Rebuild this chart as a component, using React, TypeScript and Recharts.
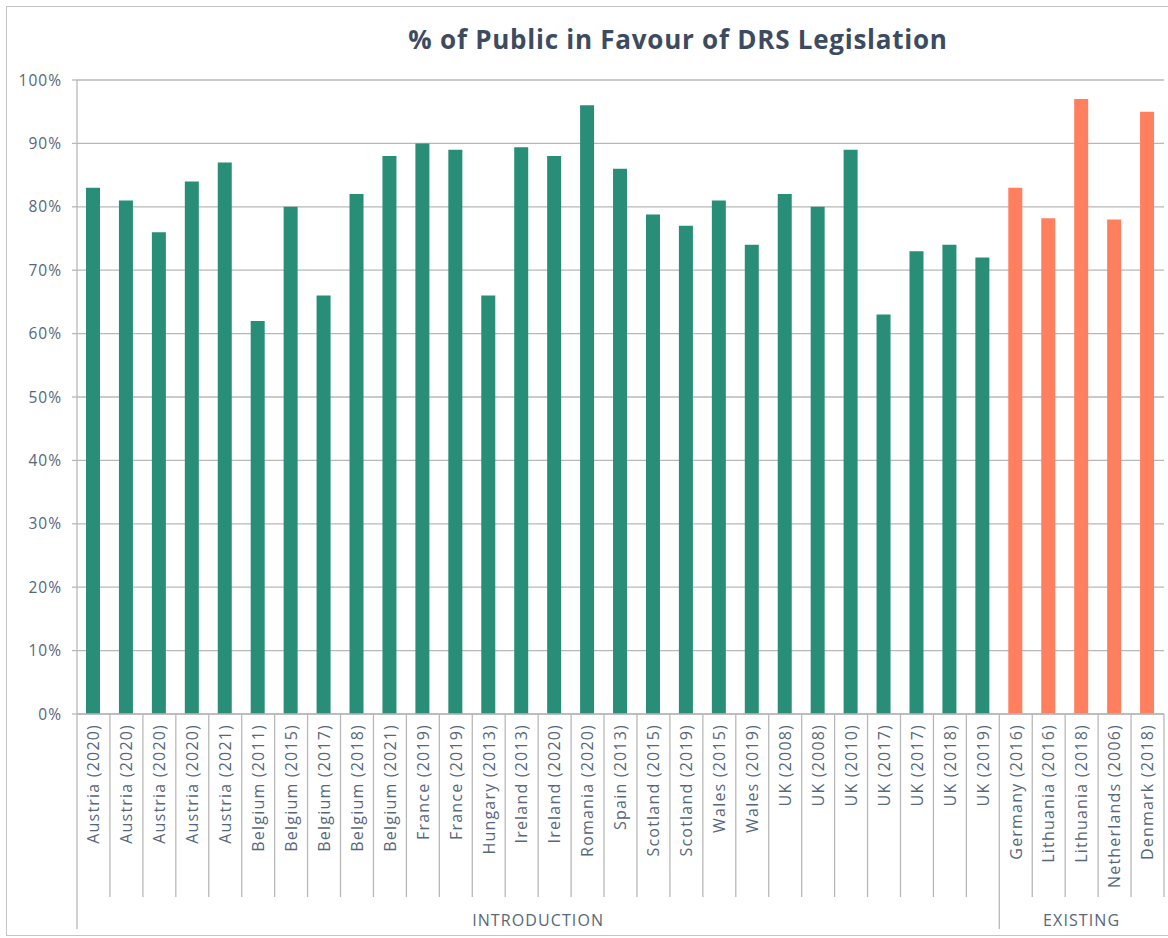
import React from "react";
import { BarChart, Bar, XAxis, YAxis, CartesianGrid, Cell } from "recharts";

const categories = [
  "Austria (2020)", "Austria (2020)", "Austria (2020)", "Austria (2020)", "Austria (2021)",
  "Belgium (2011)", "Belgium (2015)", "Belgium (2017)", "Belgium (2018)", "Belgium (2021)",
  "France (2019)", "France (2019)", "Hungary (2013)", "Ireland (2013)", "Ireland (2020)",
  "Romania (2020)", "Spain (2013)", "Scotland (2015)", "Scotland (2019)", "Wales (2015)",
  "Wales (2019)", "UK (2008)", "UK (2008)", "UK (2010)", "UK (2017)", "UK (2017)",
  "UK (2018)", "UK (2019)",
  "Germany (2016)", "Lithuania (2016)", "Lithuania (2018)", "Netherlands (2006)", "Denmark (2018)",
];

const values = [
  83, 81, 76, 84, 87,
  62, 80, 66, 82, 88,
  90, 89, 66, 89.4, 88,
  96, 86, 78.8, 77, 81,
  74, 82, 80, 89, 63, 73,
  74, 72,
  83, 78.2, 97, 78, 95,
];

const groupNames = ["INTRODUCTION", "EXISTING"];
const groupCounts = [28, 5];
const groupColors = ["#288E78", "#FF7F5F"];

const yTicks = [0, 10, 20, 30, 40, 50, 60, 70, 80, 90, 100];

const title = "% of Public in Favour of DRS Legislation";

// layout
const W = 1168;
const H = 938;
const PLOT_LEFT = 77;
const PLOT_RIGHT_MARGIN = 4;
const PLOT_TOP = 80;
const PLOT_BOTTOM = 714;
const BAND = (W - PLOT_LEFT - PLOT_RIGHT_MARGIN) / categories.length;
const TEXT = "#56677B";
const GRID = "#B8B8B8";
const FONT = "'Open Sans', sans-serif";

const groupOf: number[] = [];
const groupStart: number[] = [];
{
  let k = 0;
  groupCounts.forEach((c, g) => {
    groupStart.push(k);
    for (let j = 0; j < c; j++) groupOf.push(g);
    k += c;
  });
}

const data = categories.map((name, i) => ({
  id: i,
  name,
  value: values[i],
  group: groupOf[i],
}));

function CategoryTick(props: any) {
  const { x, y, payload } = props;
  const i = Number(payload.value);
  const left = x - BAND / 2;
  const g = groupOf[i];
  const isFirst = groupStart[g] === i;
  const isLast = i === categories.length - 1;
  const shortLen = 183;
  const longLen = 215;
  const groupCenter = left + (groupCounts[g] * BAND) / 2;
  return (
    <g>
      <line
        x1={left}
        x2={left}
        y1={y}
        y2={y + (isFirst ? longLen : shortLen)}
        stroke={GRID}
        strokeWidth={1.3}
      />
      {isLast && (
        <line x1={left + BAND} x2={left + BAND} y1={y} y2={y + shortLen} stroke={GRID} strokeWidth={1.3} />
      )}
      <text
        transform={`translate(${x},${y + 10}) rotate(-90)`}
        textAnchor="end"
        dy="0.36em"
        fontSize={16}
        letterSpacing={1.2}
        fill={TEXT}
        fontFamily={FONT}
      >
        {categories[i]}
      </text>
      {isFirst && (
        <text
          x={groupCenter}
          y={y + 212}
          textAnchor="middle"
          fontSize={16}
          letterSpacing={1.1}
          fill={TEXT}
          fontFamily={FONT}
        >
          {groupNames[g]}
        </text>
      )}
    </g>
  );
}

export default function App() {
  return (
    <div style={{ position: "relative", width: W, height: H, overflow: "hidden", background: "#fff" }}>
      <style>{"body{margin:0;}"}</style>
      <div
        style={{
          position: "absolute",
          left: 6,
          top: 6,
          width: 1250,
          height: 930,
          border: "1.5px solid #C4C4C4",
          boxSizing: "border-box",
        }}
      />
      <div
        style={{
          position: "absolute",
          left: 678,
          top: 21,
          transform: "translateX(-50%)",
          whiteSpace: "nowrap",
          fontFamily: FONT,
          fontWeight: 700,
          fontSize: 26,
          lineHeight: "normal",
          color: "#3D4B60",
          letterSpacing: 0.75,
        }}
      >
        {title}
      </div>
      <div style={{ position: "absolute", left: 0, top: 0 }}>
        <BarChart
          width={W}
          height={H}
          data={data}
          margin={{ top: PLOT_TOP, right: PLOT_RIGHT_MARGIN, bottom: 0, left: 0 }}
          barCategoryGap={0}
        >
          <CartesianGrid vertical={false} stroke={GRID} strokeWidth={1.3} />
          <XAxis
            dataKey="id"
            type="category"
            interval={0}
            height={H - PLOT_BOTTOM}
            tickLine={false}
            tickSize={0}
            tickMargin={0}
            axisLine={{ stroke: GRID, strokeWidth: 1.3 }}
            tick={<CategoryTick />}
          />
          <YAxis
            width={PLOT_LEFT}
            domain={[0, 100]}
            ticks={yTicks}
            interval={0}
            tickFormatter={(v: number) => `${v}%`}
            tickSize={5}
            tickMargin={10}
            tickLine={{ stroke: GRID, strokeWidth: 1.3 }}
            axisLine={{ stroke: GRID, strokeWidth: 1.3 }}
            tick={{ fill: TEXT, fontSize: 15.5, fontFamily: FONT, letterSpacing: 1 }}
          />
          <Bar dataKey="value" barSize={14} isAnimationActive={false}>
            {data.map((d) => (
              <Cell key={d.id} fill={groupColors[d.group]} />
            ))}
          </Bar>
        </BarChart>
      </div>
    </div>
  );
}
